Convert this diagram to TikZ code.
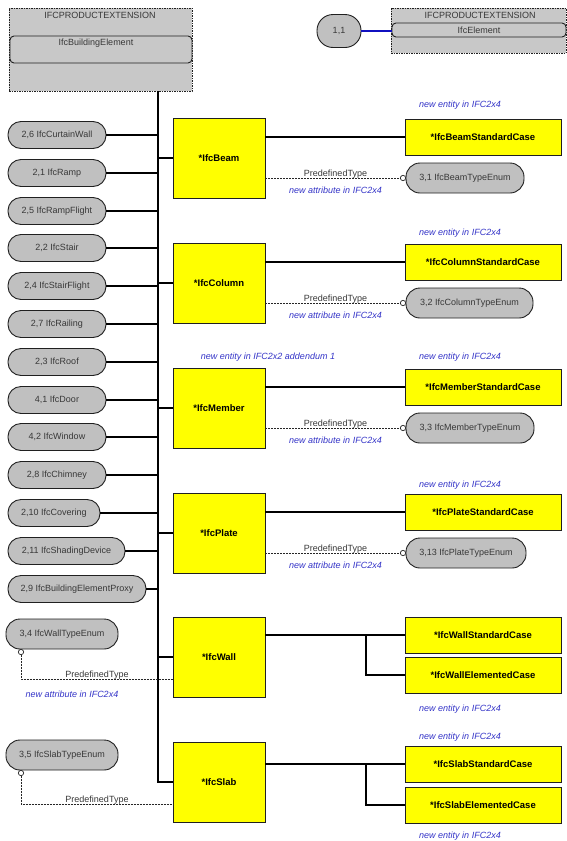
\documentclass[tikz,border=0pt]{standalone}
\usepackage{fontspec}
\setmainfont{Liberation Sans}
\usetikzlibrary{arrows.meta,calc}
\definecolor{pillgray}{HTML}{C0C0C0}
\definecolor{hdrgray}{HTML}{C8C8C8}
\definecolor{ifcyellow}{HTML}{FFFF00}
\definecolor{notblue}{HTML}{3434C8}
\definecolor{txtgray}{HTML}{383838}
\definecolor{edgegray}{HTML}{202020}
\definecolor{linkblue}{HTML}{1010C0}
\begin{document}
\begin{tikzpicture}[x=1pt,y=-1pt,
  every node/.style={font=\fontsize{9}{10}\selectfont, inner sep=0pt, outer sep=0pt},
  pill/.style={draw=edgegray, line width=0.9pt, fill=pillgray, rounded corners=13pt, minimum height=27pt, text=txtgray, anchor=west},
  enumpill/.style={pill, minimum height=30pt, rounded corners=14pt},
  ybox/.style={draw=edgegray, line width=0.8pt, fill=ifcyellow, font=\fontsize{9.5}{10}\selectfont\bfseries},
  ent/.style={ybox, minimum width=92pt, minimum height=80pt},
  subbox/.style={ybox, minimum width=156pt, minimum height=36pt, anchor=west},
  note/.style={text=notblue, font=\fontsize{9}{10}\selectfont\itshape},
  ptype/.style={text=txtgray, anchor=base, yshift=1.5pt},
  hdr/.style={draw=edgegray, fill=hdrgray, line width=0.8pt, dash pattern=on 1.5pt off 1pt},
  innerbox/.style={draw=edgegray, fill=hdrgray, line width=0.9pt, rounded corners=4pt},
  hdrtext/.style={text=txtgray},
  link/.style={line width=2.7pt, black},
  attr/.style={line width=0.7pt, black!85, dash pattern=on 2pt off 1pt},
]
\useasboundingbox[fill=white] (0,0) rectangle (567,841);

% ---- headers ----
\node[hdr, minimum width=183pt, minimum height=83pt] (hdrL) at (100.5,49.5) {};
\node[hdrtext] (hdrLt) at (100,15.5) {IFCPRODUCTEXTENSION};
\node[innerbox, minimum width=182pt, minimum height=27pt] (ibe) at (101,49.5) {};
\node[hdrtext] (ibeT) at (96,43.5) {IfcBuildingElement};

\node[hdr, minimum width=175pt, minimum height=45pt] (hdrR) at (478.5,30.5) {};
\node[hdrtext] (hdrRt) at (480,15.5) {IFCPRODUCTEXTENSION};
\node[innerbox, minimum width=174pt, minimum height=14pt, hdrtext] (ifcElem) at (479,30) {IfcElement};
\node[pill, anchor=center, minimum width=44pt, minimum height=33pt, rounded corners=16pt] (c11) at (339,31) {1,1};
\draw[line width=1.5pt, linkblue] (c11.east) -- (c11.east -| ifcElem.west);

% ---- trunk ----
\coordinate (tx) at (158,0);
\coordinate (tt) at (hdrL.south -| tx);

% ---- entities ----
\node[ent] (beam) at (219,158) {*IfcBeam};
\node[ent] (column) at (219,283) {*IfcColumn};
\node[ent] (member) at (219,408) {*IfcMember};
\node[ent] (plate) at (219,533) {*IfcPlate};
\node[ent] (wall) at (219,657) {*IfcWall};
\node[ent] (slab) at (219,782) {*IfcSlab};

\draw[link] (tt) -- (tt |- slab.west) -- (slab.west);
\foreach \e in {beam,column,member,plate,wall}{
  \draw[link] (\e.west -| tx) -- (\e.west);
}

% ---- left pills ----
\node[pill, minimum width=98pt] (lp1) at (8,135) {2,6 IfcCurtainWall};
\node[pill, minimum width=98pt] (lp2) at (8,173) {2,1 IfcRamp};
\node[pill, minimum width=98pt] (lp3) at (8,211) {2,5 IfcRampFlight};
\node[pill, minimum width=98pt] (lp4) at (8,248) {2,2 IfcStair};
\node[pill, minimum width=98pt] (lp5) at (8,286) {2,4 IfcStairFlight};
\node[pill, minimum width=98pt] (lp6) at (8,324) {2,7 IfcRailing};
\node[pill, minimum width=98pt] (lp7) at (8,362) {2,3 IfcRoof};
\node[pill, minimum width=98pt] (lp8) at (8,400) {4,1 IfcDoor};
\node[pill, minimum width=98pt] (lp9) at (8,437) {4,2 IfcWindow};
\node[pill, minimum width=98pt] (lp10) at (8,475) {2,8 IfcChimney};
\node[pill, minimum width=92pt] (lp11) at (8,513) {2,10 IfcCovering};
\node[pill, minimum width=117pt] (lp12) at (8,551) {2,11 IfcShadingDevice};
\node[pill, minimum width=138pt] (lp13) at (8,589) {2,9 IfcBuildingElementProxy};
\foreach \i in {1,...,13}{
  \draw[link] (lp\i.east) -- (lp\i.east -| tx);
}

% ---- standard cases ----
\node[subbox] (beamStd) at (405,137) {*IfcBeamStandardCase};
\node[subbox] (columnStd) at (405,262) {*IfcColumnStandardCase};
\node[subbox] (memberStd) at (405,387) {*IfcMemberStandardCase};
\node[subbox] (plateStd) at (405,512) {*IfcPlateStandardCase};
\foreach \e in {beam,column,member,plate}{
  \draw[link] (\e Std.west -| \e.east) -- (\e Std.west);
}

% ---- type enums right ----
\node[enumpill, minimum width=118pt] (beamEnum) at (406,178) {3,1 IfcBeamTypeEnum};
\node[enumpill, minimum width=127pt] (columnEnum) at (406,303) {3,2 IfcColumnTypeEnum};
\node[enumpill, minimum width=128pt] (memberEnum) at (406,428) {3,3 IfcMemberTypeEnum};
\node[enumpill, minimum width=120pt] (plateEnum) at (406,553) {3,13 IfcPlateTypeEnum};
\foreach \e in {beam,column,member,plate}{
  \draw[attr, -{Circle[open,length=6pt,width=6pt,line width=0.7pt]}] (\e Enum.west -| \e.east) --
    node[ptype] {PredefinedType}
    node[note, yshift=-12pt] {new attribute in IFC2x4} (\e Enum.west);
}

% ---- notes ----
\node[note] (n1) at (460,105) {new entity in IFC2x4};
\node[note] (n2) at (460,233) {new entity in IFC2x4};
\node[note] (n3) at (460,357) {new entity in IFC2x4};
\node[note] (n3b) at (268,357) {new entity in IFC2x2 addendum 1};
\node[note] (n4) at (460,485) {new entity in IFC2x4};
\node[note] (n5) at (460,709) {new entity in IFC2x4};
\node[note] (n6) at (460,737) {new entity in IFC2x4};
\node[note] (n7) at (460,836) {new entity in IFC2x4};

% ---- wall / slab sub cases ----
\coordinate (bx) at (366,0);
\node[subbox] (wallStd) at (405,635) {*IfcWallStandardCase};
\node[subbox] (wallElem) at (405,675) {*IfcWallElementedCase};
\node[subbox] (slabStd) at (405,764) {*IfcSlabStandardCase};
\node[subbox] (slabElem) at (405,805) {*IfcSlabElementedCase};
\draw[link] (wallStd.west -| wall.east) -- (wallStd.west);
\draw[link] (wallStd.west -| bx) |- (wallElem.west);
\draw[link] (slabStd.west -| slab.east) -- (slabStd.west);
\draw[link] (slabStd.west -| bx) |- (slabElem.west);

% ---- left enums ----
\node[enumpill, minimum width=112pt] (wallEnum) at (6,634) {3,4 IfcWallTypeEnum};
\node[enumpill, minimum width=112pt] (slabEnum) at (6,755) {3,5 IfcSlabTypeEnum};
\draw[attr, {Circle[open,length=6pt,width=6pt,line width=0.7pt]}-] ([xshift=15pt]wallEnum.south west) |-
  node[pos=0.75, ptype] {PredefinedType} ([yshift=-22pt]wall.west);
\node[note] (n8) at (72,694) {new attribute in IFC2x4};
\draw[attr, {Circle[open,length=6pt,width=6pt,line width=0.7pt]}-] ([xshift=15pt]slabEnum.south west) |-
  node[pos=0.75, ptype] {PredefinedType} ([yshift=-22pt]slab.west);
\end{tikzpicture}
\end{document}
